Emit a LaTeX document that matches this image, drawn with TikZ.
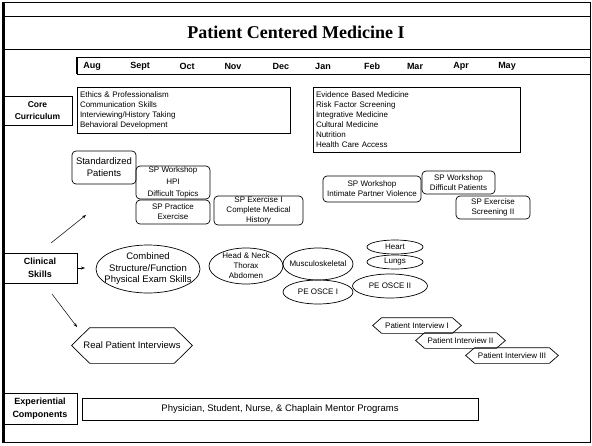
\documentclass[tikz,border=0pt]{standalone}
\usepackage{fontspec}
\setmainfont{Liberation Sans}
\newfontfamily\titlefont{Liberation Serif}
\usetikzlibrary{arrows.meta,shapes.geometric}

% hexagon frame round a named node: name, tip length
\newcommand{\hexframe}[2]{%
  \draw (#1.west) -- ([xshift=#2]#1.north west) -- ([xshift=-#2]#1.north east) -- (#1.east)
        -- ([xshift=-#2]#1.south east) -- ([xshift=#2]#1.south west) -- cycle;}

\begin{document}
\begin{tikzpicture}[x=1pt, y=-1pt, line width=0.7pt,
    every node/.style={inner sep=0pt, align=center, font=\fontsize{8}{10}\selectfont},
    rowhead/.style={draw, font=\bfseries\fontsize{9}{12.5}\selectfont},
    listbox/.style={draw, align=left, inner xsep=3pt},
    spbox/.style={draw, rounded corners=4pt},
    oval/.style={draw, ellipse},
    month/.style={font=\bfseries\fontsize{9}{10}\selectfont},
    arr/.style={-{Stealth[length=4pt, width=3pt]}, line width=0.5pt}]
  \useasboundingbox (0,0) rectangle (592,445);
  %
  \draw (2,2) rectangle (590,442);           % frame
  \draw[line width=3pt] (3,2) -- (3,442);
  \draw (3,16) -- (590,16);                  % title band
  \draw (3,49) -- (590,49);
  \node[font=\titlefont\bfseries\fontsize{18}{20}\selectfont] (title) at (296,32) {Patient Centered Medicine I};
  %
  \draw (77,57) rectangle (590,74);          % months
  \draw[line width=2pt] (77,57) -- (77,74);
  \foreach \m/\x in {Aug/92, Sept/140, Oct/187, Nov/233, Dec/281,
                     Jan/323, Feb/372, Mar/415, Apr/461, May/507}
    \node[month] (m\m) at (\x,66) {\m};
  %
  \node[rowhead, minimum width=69, minimum height=29, font=\bfseries\fontsize{8.5}{12}\selectfont] (core) at (37.5,110.5) {Core\\Curriculum};
  \node[rowhead, minimum width=74, minimum height=30] (clin) at (40,268) {Clinical\\Skills};
  \node[rowhead, minimum width=74, minimum height=31] (expr) at (40,408.5) {Experiential\\Components};
  %
  \node[listbox, minimum width=213, minimum height=46, text width=207] (ethics) at (183.5,110)
    {Ethics \& Professionalism\\Communication Skills\\Interviewing/History Taking\\Behavioral Development};
  \node[listbox, minimum width=207, minimum height=65, text width=201] (ebm) at (416.5,119.5)
    {Evidence Based Medicine\\Risk Factor Screening\\Integrative Medicine\\Cultural Medicine\\Nutrition\\Health Care Access};
  %
  \node[spbox, minimum width=64, minimum height=33, font=\fontsize{9.5}{12}\selectfont] (stdpat) at (104,167.5) {Standardized\\Patients};
  \node[spbox, minimum width=74, minimum height=33, font=\fontsize{8}{12}\selectfont] (spwork) at (173,182.5) {SP Workshop\\HPI\\Difficult Topics};
  \node[spbox, minimum width=74, minimum height=24] (sppract) at (173,212) {SP Practice\\Exercise};
  \node[spbox, minimum width=89, minimum height=29] (spex) at (258.5,210.5) {SP Exercise I\\Complete Medical\\History};
  \node[spbox, minimum width=98, minimum height=26] (ipv) at (372,189) {SP Workshop\\Intimate Partner Violence};
  \node[spbox, minimum width=73, minimum height=23] (diffpat) at (458.5,182.5) {SP Workshop\\Difficult Patients};
  \node[spbox, minimum width=74, minimum height=23] (spscr) at (493,207.5) {SP Exercise\\Screening II};
  %
  \node[oval, minimum width=104, minimum height=48,
        label={[font=\fontsize{9.5}{11.5}\selectfont]center:Combined\\Structure/Function\\Physical Exam Skills}] (comb) at (148,269) {};
  \node[oval, minimum width=74, minimum height=36,
        label={[font=\fontsize{8}{10}\selectfont]center:Head \& Neck\\Thorax\\Abdomen}] (head) at (246,266) {};
  \node[oval, minimum width=70, minimum height=32, label=center:Musculoskeletal] (musc) at (318,264) {};
  \node[oval, minimum width=56, minimum height=14, label=center:Heart] (heart) at (395,247) {};
  \node[oval, minimum width=56, minimum height=14, label=center:Lungs] (lungs) at (395,262) {};
  \node[oval, minimum width=70, minimum height=24, label=center:PE OSCE I] (osce1) at (318,292) {};
  \node[oval, minimum width=75, minimum height=24, label=center:PE OSCE II] (osce2) at (390,286) {};
  %
  \node[minimum width=120, minimum height=35, font=\fontsize{9.5}{11}\selectfont] (realpi) at (132,345.5) {Real Patient Interviews};
  \hexframe{realpi}{18}
  \node[minimum width=88, minimum height=15] (pi1) at (417,325.5) {Patient Interview I};
  \hexframe{pi1}{9}
  \node[minimum width=89, minimum height=15] (pi2) at (460.5,340.5) {Patient Interview II};
  \hexframe{pi2}{9}
  \node[minimum width=92, minimum height=15] (pi3) at (512,355.5) {Patient Interview III};
  \hexframe{pi3}{9}
  %
  \node[draw, minimum width=396, minimum height=22, font=\fontsize{9.5}{11}\selectfont] (mentor) at (280,409)
    {Physician, Student, Nurse, \& Chaplain Mentor Programs};
  %
  \coordinate (upfrom) at (51,243);          % arrows from clinical skills
  \coordinate (upto) at (86,215);
  \coordinate (rto) at (85,268);
  \coordinate (dnfrom) at (52,294);
  \coordinate (dnto) at (77,327);
  \draw[arr] (upfrom) -- (upto);
  \draw[arr] (clin.east) -- (rto);
  \draw[arr] (dnfrom) -- (dnto);
\end{tikzpicture}
\end{document}
